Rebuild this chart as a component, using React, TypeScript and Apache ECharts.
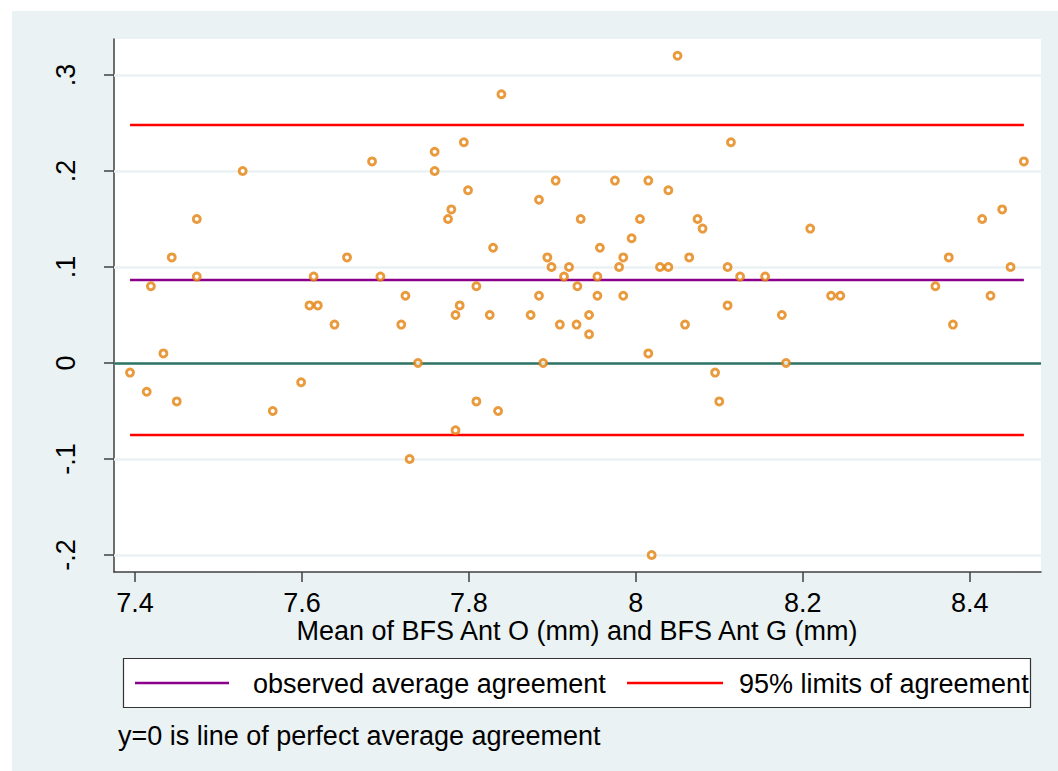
import React, { useEffect, useRef } from "react";
import * as echarts from "echarts";

// Mean of the two measurements (x) and their difference (y)
const meanValues: number[] = [
  7.394, 7.414, 7.419, 7.434, 7.444, 7.45, 7.474, 7.474, 7.529, 7.565,
  7.599, 7.609, 7.614, 7.619, 7.639, 7.654, 7.684, 7.694, 7.719, 7.724,
  7.729, 7.739, 7.759, 7.759, 7.775, 7.779, 7.784, 7.784, 7.789, 7.794,
  7.799, 7.809, 7.809, 7.825, 7.829, 7.835, 7.839, 7.874, 7.884, 7.884,
  7.889, 7.894, 7.899, 7.904, 7.909, 7.914, 7.92, 7.929, 7.93, 7.934,
  7.944, 7.944, 7.954, 7.954, 7.957, 7.975, 7.98, 7.985, 7.985, 7.995,
  8.005, 8.015, 8.015, 8.019, 8.029, 8.039, 8.039, 8.05, 8.059, 8.064,
  8.074, 8.08, 8.095, 8.1, 8.11, 8.11, 8.114, 8.125, 8.155, 8.175,
  8.18, 8.209, 8.234, 8.245, 8.359, 8.375, 8.38, 8.415, 8.425, 8.439,
  8.449, 8.465,
];
const diffValues: number[] = [
  -0.01, -0.03, 0.08, 0.01, 0.11, -0.04, 0.15, 0.09, 0.2, -0.05,
  -0.02, 0.06, 0.09, 0.06, 0.04, 0.11, 0.21, 0.09, 0.04, 0.07,
  -0.1, 0.0, 0.22, 0.2, 0.15, 0.16, 0.05, -0.07, 0.06, 0.23,
  0.18, 0.08, -0.04, 0.05, 0.12, -0.05, 0.28, 0.05, 0.17, 0.07,
  0.0, 0.11, 0.1, 0.19, 0.04, 0.09, 0.1, 0.04, 0.08, 0.15,
  0.05, 0.03, 0.09, 0.07, 0.12, 0.19, 0.1, 0.11, 0.07, 0.13,
  0.15, 0.19, 0.01, -0.2, 0.1, 0.18, 0.1, 0.32, 0.04, 0.11,
  0.15, 0.14, -0.01, -0.04, 0.1, 0.06, 0.23, 0.09, 0.09, 0.05,
  0.0, 0.14, 0.07, 0.07, 0.08, 0.11, 0.04, 0.15, 0.07, 0.16,
  0.1, 0.21,
];

const meanDifference = 0.0865;
const upperLimit = 0.248;
const lowerLimit = -0.075;

const xTicks: number[] = [7.4, 7.6, 7.8, 8.0, 8.2, 8.4];
const yTicks: number[] = [-0.2, -0.1, 0, 0.1, 0.2, 0.3];

const xTitle = "Mean of BFS Ant O (mm) and BFS Ant G (mm)";
const legendLabels: string[] = ["observed average agreement", "95% limits of agreement"];
const noteText = "y=0 is line of perfect average agreement";

const FONT = "'Liberation Sans', Arial, Helvetica, sans-serif";
const FS = 27;

export default function App() {
  const ref = useRef<HTMLDivElement>(null);

  useEffect(() => {
    if (!ref.current) return;
    const chart = echarts.init(ref.current, undefined, { renderer: "svg" });
    const xMin = Math.min(...meanValues);
    const xMax = Math.max(...meanValues);
    const points = meanValues.map((m, i) => [m, diffValues[i]]);

    const yFmt = (v: number) => {
      if (Math.abs(v) < 1e-9) return "0";
      return v.toFixed(1).replace(/^(-?)0\./, "$1.");
    };

    chart.setOption({
      animation: false,
      backgroundColor: "transparent",
      grid: {
        left: 114,
        top: 39,
        right: 17,
        bottom: 199,
        show: true,
        backgroundColor: "#ffffff",
        borderWidth: 0,
      },
      xAxis: {
        type: "value",
        min: 7.3748,
        max: 8.4855,
        axisLine: { show: true, onZero: false, lineStyle: { color: "#404040", width: 1.5 } },
        axisTick: { show: true, length: 10, customValues: xTicks, lineStyle: { color: "#404040", width: 1.5 } },
        axisLabel: {
          customValues: xTicks,
          formatter: (v: number) => String(+v.toFixed(1)),
          color: "#000",
          fontFamily: FONT,
          fontSize: FS,
          lineHeight: 20,
          margin: 21,
        },
        splitLine: { show: false },
      },
      yAxis: {
        type: "value",
        min: -0.2177,
        max: 0.3375,
        axisLine: { show: true, onZero: false, lineStyle: { color: "#404040", width: 1.5 } },
        axisTick: { show: true, length: 10, customValues: yTicks, lineStyle: { color: "#404040", width: 1.5 } },
        axisLabel: {
          customValues: yTicks,
          formatter: yFmt,
          rotate: 90,
          color: "#000",
          fontFamily: FONT,
          fontSize: FS,
          margin: 35,
        },
        splitLine: { show: false },
      },
      series: [
        {
          name: "grid",
          type: "line",
          data: [],
          z: 1,
          silent: true,
          markLine: {
            silent: true,
            symbol: "none",
            label: { show: false },
            lineStyle: { color: "#eaf2f3", width: 2.5, type: "solid" },
            data: yTicks.map((t) => ({ yAxis: t })),
          },
        },
        {
          name: "zero",
          type: "line",
          data: [],
          z: 2,
          silent: true,
          markLine: {
            silent: true,
            symbol: "none",
            label: { show: false },
            lineStyle: { color: "#2f7367", width: 2.5, type: "solid" },
            data: [{ yAxis: 0 }],
          },
        },
        {
          name: legendLabels[0],
          type: "line",
          z: 3,
          symbol: "none",
          lineStyle: { color: "#8b008b", width: 2.5 },
          data: [
            [xMin, meanDifference],
            [xMax, meanDifference],
          ],
        },
        {
          name: legendLabels[1],
          type: "line",
          z: 3,
          symbol: "none",
          lineStyle: { color: "#ff0000", width: 2.5 },
          data: [
            [xMin, upperLimit],
            [xMax, upperLimit],
          ],
        },
        {
          name: legendLabels[1] + " (lower)",
          type: "line",
          z: 3,
          symbol: "none",
          lineStyle: { color: "#ff0000", width: 2.5 },
          data: [
            [xMin, lowerLimit],
            [xMax, lowerLimit],
          ],
        },
        {
          name: "difference",
          type: "scatter",
          z: 5,
          symbol: "circle",
          symbolSize: 7,
          itemStyle: { color: "#ffffff", borderColor: "#e4810b", borderWidth: 2.9 },
          data: points,
        },
      ],
      graphic: [
        {
          type: "text",
          x: 577,
          y: 631,
          style: {
            text: xTitle,
            fontFamily: FONT,
            fontSize: FS,
            lineHeight: 20,
            fill: "#000",
            align: "center",
            verticalAlign: "middle",
          },
        },
        {
          type: "rect",
          shape: { x: 123.5, y: 658.5, width: 907, height: 49 },
          style: { fill: "#ffffff", stroke: "#333333", lineWidth: 1.2 },
        },
        {
          type: "line",
          shape: { x1: 135, y1: 683, x2: 229, y2: 683 },
          style: { stroke: "#8b008b", lineWidth: 2.5 },
        },
        {
          type: "text",
          x: 253,
          y: 684,
          style: {
            text: legendLabels[0],
            fontFamily: FONT,
            fontSize: FS,
            fill: "#000",
            align: "left",
            verticalAlign: "middle",
          },
        },
        {
          type: "line",
          shape: { x1: 627, y1: 683, x2: 723, y2: 683 },
          style: { stroke: "#ff0000", lineWidth: 2.5 },
        },
        {
          type: "text",
          x: 739,
          y: 684,
          style: {
            text: legendLabels[1],
            fontFamily: FONT,
            fontSize: FS,
            fill: "#000",
            align: "left",
            verticalAlign: "middle",
          },
        },
        {
          type: "text",
          x: 118,
          y: 736,
          style: {
            text: noteText,
            fontFamily: FONT,
            fontSize: FS,
            fill: "#000",
            align: "left",
            verticalAlign: "middle",
          },
        },
      ],
    });
    return () => chart.dispose();
  }, []);

  return (
    <div style={{ position: "absolute", left: 0, top: 0, width: 1058, height: 771, background: "#ffffff" }}>
      <div style={{ position: "absolute", left: 12, top: 11, width: 1046, height: 760, background: "#eaf2f3" }} />
      <div ref={ref} style={{ position: "absolute", left: 0, top: 0, width: 1058, height: 771 }} />
    </div>
  );
}
